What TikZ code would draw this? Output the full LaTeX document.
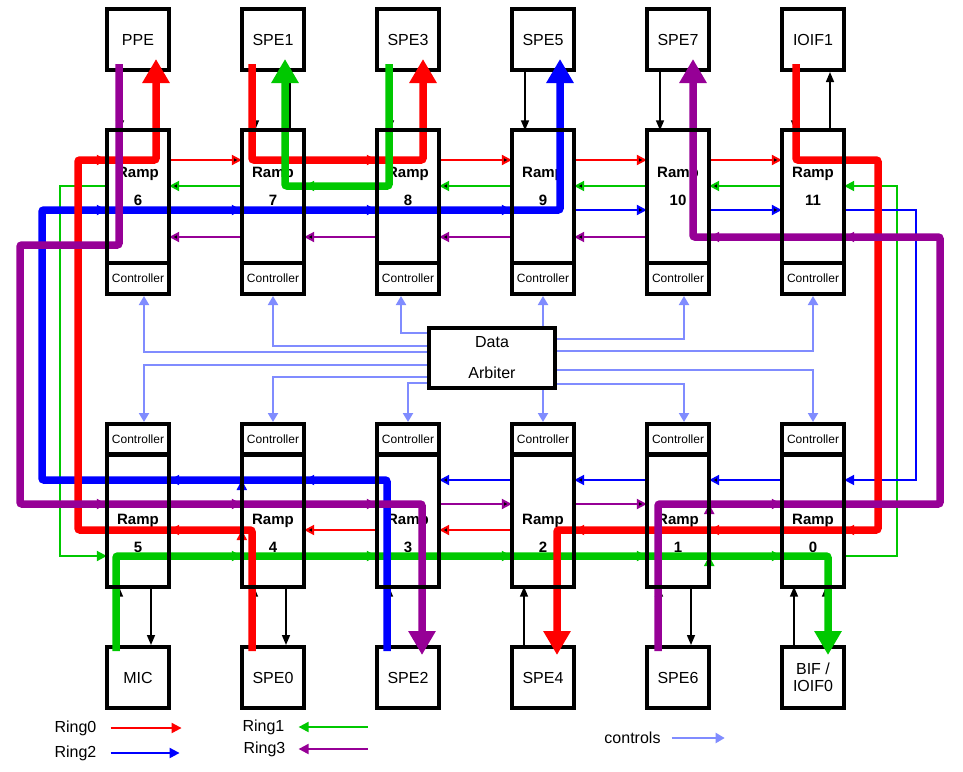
\documentclass[tikz,border=0pt]{standalone}
\usepackage{fontspec}
\setmainfont{Liberation Sans}
\usepackage{tikz}
\usetikzlibrary{arrows.meta,positioning}

\definecolor{ringred}{RGB}{255,0,0}
\definecolor{ringgreen}{RGB}{0,200,0}
\definecolor{ringblue}{RGB}{0,0,255}
\definecolor{ringpurple}{RGB}{150,0,150}
\definecolor{ctlblue}{RGB}{128,140,255}

\tikzset{
  dev/.style={draw, line width=4pt, minimum width=62pt, minimum height=61pt,
    inner sep=0pt, align=center, font=\fontsize{16}{17}\selectfont},
  ramp/.style={minimum width=62pt, minimum height=132pt, inner sep=0pt},
  ctrl/.style={draw, line width=4pt, minimum width=62pt, minimum height=31pt,
    inner sep=0pt, font=\fontsize{12}{14}\selectfont},
  arb/.style={draw, line width=4pt, minimum width=126pt, minimum height=60pt,
    inner sep=0pt, align=center, font=\fontsize{16}{31}\selectfont},
  rlbl/.style={align=center, inner sep=0pt, font=\bfseries\fontsize{15}{28}\selectfont},
  lgd/.style={inner sep=1pt, font=\fontsize{16}{19}\selectfont},
  ringarr/.style={line width=2pt, -{Triangle[width=10pt,length=10pt]}},
  ring0/.style={ringarr, draw=ringred},
  ring1/.style={ringarr, draw=ringgreen},
  ring2/.style={ringarr, draw=ringblue},
  ring3/.style={ringarr, draw=ringpurple},
  bus/.style={draw=black, line width=1.5pt, -{Triangle[width=8pt,length=10pt]}},
  ctl/.style={draw=ctlblue, line width=2pt, -{Triangle[width=10pt,length=9pt]}},
  route/.style={line width=7.5pt, rounded corners=2pt, -{Triangle[width=26pt,length=24pt]}}
}

\begin{document}
\begin{tikzpicture}[x=1pt,y=-1pt,node distance=135pt,on grid]
   \useasboundingbox (0,0) rectangle (963,771);

   % top units
   \node[dev] (ppe) at (138,39.5)    {PPE};
   \node[dev] (spe1)  [right=of ppe]  {SPE1};
   \node[dev] (spe3)  [right=of spe1] {SPE3};
   \node[dev] (spe5)  [right=of spe3] {SPE5};
   \node[dev] (spe7)  [right=of spe5] {SPE7};
   \node[dev] (ioif1) [right=of spe7] {IOIF1};

   \node[ramp] (r6)  [below=157pt of ppe] {};
   \node[ramp] (r7)  [right=of r6]  {};
   \node[ramp] (r8)  [right=of r7]  {};
   \node[ramp] (r9)  [right=of r8]  {};
   \node[ramp] (r10) [right=of r9]  {};
   \node[ramp] (r11) [right=of r10] {};

   \node[ctrl] (c6)  [below=82pt of r6]  {Controller};
   \node[ctrl] (c7)  [below=82pt of r7]  {Controller};
   \node[ctrl] (c8)  [below=82pt of r8]  {Controller};
   \node[ctrl] (c9)  [below=82pt of r9]  {Controller};
   \node[ctrl] (c10) [below=82pt of r10] {Controller};
   \node[ctrl] (c11) [below=82pt of r11] {Controller};

   % bottom units
   \node[ramp] (r5) at (138,520.5) {};
   \node[ramp] (r4) [right=of r5] {};
   \node[ramp] (r3) [right=of r4] {};
   \node[ramp] (r2) [right=of r3] {};
   \node[ramp] (r1) [right=of r2] {};
   \node[ramp] (r0) [right=of r1] {};

   \node[ctrl] (c5) [above=81pt of r5] {Controller};
   \node[ctrl] (c4) [above=81pt of r4] {Controller};
   \node[ctrl] (c3) [above=81pt of r3] {Controller};
   \node[ctrl] (c2) [above=81pt of r2] {Controller};
   \node[ctrl] (c1) [above=81pt of r1] {Controller};
   \node[ctrl] (c0) [above=81pt of r0] {Controller};

   \node[dev] (mic)  [below=157pt of r5] {MIC};
   \node[dev] (spe0) [below=157pt of r4] {SPE0};
   \node[dev] (spe2) [below=157pt of r3] {SPE2};
   \node[dev] (spe4) [below=157pt of r2] {SPE4};
   \node[dev] (spe6) [below=157pt of r1] {SPE6};
   \node[dev] (bif)  [below=157pt of r0] {BIF /\\IOIF0};

   \node[arb] (arb) at (492,358) {Data\\Arbiter};

   \node[rlbl] (t6)  at (r6 |- 0,186)  {Ramp\\6};
   \node[rlbl] (t7)  at (r7 |- 0,186)  {Ramp\\7};
   \node[rlbl] (t8)  at (r8 |- 0,186)  {Ramp\\8};
   \node[rlbl] (t9)  at (r9 |- 0,186)  {Ramp\\9};
   \node[rlbl] (t10) at (r10 |- 0,186) {Ramp\\10};
   \node[rlbl] (t11) at (r11 |- 0,186) {Ramp\\11};
   \node[rlbl] (t5)  at (r5 |- 0,533.5) {Ramp\\5};
   \node[rlbl] (t4)  at (r4 |- 0,533.5) {Ramp\\4};
   \node[rlbl] (t3)  at (r3 |- 0,533.5) {Ramp\\3};
   \node[rlbl] (t2)  at (r2 |- 0,533.5) {Ramp\\2};
   \node[rlbl] (t1)  at (r1 |- 0,533.5) {Ramp\\1};
   \node[rlbl] (t0)  at (r0 |- 0,533.5) {Ramp\\0};

   % ring links between ramps
   \path[ring0]
    (r6.east |- 0,160)  edge (r7.west |- 0,160)
    (r7.east |- 0,160)  edge (r8.west |- 0,160)
    (r8.east |- 0,160)  edge (r9.west |- 0,160)
    (r9.east |- 0,160)  edge (r10.west |- 0,160)
    (r10.east |- 0,160) edge (r11.west |- 0,160)
    (r0.west |- 0,530)  edge (r1.east |- 0,530)
    (r1.west |- 0,530)  edge (r2.east |- 0,530)
    (r2.west |- 0,530)  edge (r3.east |- 0,530)
    (r3.west |- 0,530)  edge (r4.east |- 0,530)
    (r4.west |- 0,530)  edge (r5.east |- 0,530);
   \path[ring1]
    (r7.west |- 0,186)  edge (r6.east |- 0,186)
    (r8.west |- 0,186)  edge (r7.east |- 0,186)
    (r9.west |- 0,186)  edge (r8.east |- 0,186)
    (r10.west |- 0,186) edge (r9.east |- 0,186)
    (r11.west |- 0,186) edge (r10.east |- 0,186)
    (r5.east |- 0,556)  edge (r4.west |- 0,556)
    (r4.east |- 0,556)  edge (r3.west |- 0,556)
    (r3.east |- 0,556)  edge (r2.west |- 0,556)
    (r2.east |- 0,556)  edge (r1.west |- 0,556)
    (r1.east |- 0,556)  edge (r0.west |- 0,556);
   \path[ring2]
    (r6.east |- 0,210)  edge (r7.west |- 0,210)
    (r7.east |- 0,210)  edge (r8.west |- 0,210)
    (r8.east |- 0,210)  edge (r9.west |- 0,210)
    (r9.east |- 0,210)  edge (r10.west |- 0,210)
    (r10.east |- 0,210) edge (r11.west |- 0,210)
    (r0.west |- 0,480)  edge (r1.east |- 0,480)
    (r1.west |- 0,480)  edge (r2.east |- 0,480)
    (r2.west |- 0,480)  edge (r3.east |- 0,480)
    (r3.west |- 0,480)  edge (r4.east |- 0,480)
    (r4.west |- 0,480)  edge (r5.east |- 0,480);
   \path[ring3]
    (r7.west |- 0,237)  edge (r6.east |- 0,237)
    (r8.west |- 0,237)  edge (r7.east |- 0,237)
    (r9.west |- 0,237)  edge (r8.east |- 0,237)
    (r10.west |- 0,237) edge (r9.east |- 0,237)
    (r11.west |- 0,237) edge (r10.east |- 0,237)
    (r5.east |- 0,504)  edge (r4.west |- 0,504)
    (r4.east |- 0,504)  edge (r3.west |- 0,504)
    (r3.east |- 0,504)  edge (r2.west |- 0,504)
    (r2.east |- 0,504)  edge (r1.west |- 0,504)
    (r1.east |- 0,504)  edge (r0.west |- 0,504);

   % ring ends round the sides
   \draw[ring0] (r11.east |- 0,160) -| (878,530) -- (r0.east |- 0,530);
   \draw[ring0] (r5.west |- 0,530)  -| (78,160)  -- (r6.west |- 0,160);
   \draw[ring1] (r6.west |- 0,186)  -| (60,556)  -- (r5.west |- 0,556);
   \draw[ring1] (r0.east |- 0,556)  -| (897,186) -- (r11.east |- 0,186);
   \draw[ring2] (r11.east |- 0,210) -| (916,480) -- (r0.east |- 0,480);
   \draw[ring2] (r5.west |- 0,480)  -| (42,210)  -- (r6.west |- 0,210);
   \draw[ring3] (r6.west |- 0,245)  -| (20,504)  -- (r5.west |- 0,504);
   \draw[ring3] (r0.east |- 0,504)  -| (940,237) -- (r11.east |- 0,237);

   % units to ramps
   \path[bus]
    ([xshift=-18pt]ppe.south)   edge ([xshift=-18pt]r6.north)
    ([xshift=17pt]r6.north)     edge ([xshift=17pt]ppe.south)
    ([xshift=-18pt]spe1.south)  edge ([xshift=-18pt]r7.north)
    ([xshift=17pt]r7.north)     edge ([xshift=17pt]spe1.south)
    ([xshift=-18pt]spe3.south)  edge ([xshift=-18pt]r8.north)
    ([xshift=17pt]r8.north)     edge ([xshift=17pt]spe3.south)
    ([xshift=-18pt]spe5.south)  edge ([xshift=-18pt]r9.north)
    ([xshift=17pt]r9.north)     edge ([xshift=17pt]spe5.south)
    ([xshift=-18pt]spe7.south)  edge ([xshift=-18pt]r10.north)
    ([xshift=17pt]r10.north)    edge ([xshift=17pt]spe7.south)
    ([xshift=-18pt]ioif1.south) edge ([xshift=-18pt]r11.north)
    ([xshift=17pt]r11.north)    edge ([xshift=17pt]ioif1.south)

    ([xshift=-19pt]mic.north)   edge ([xshift=-19pt]r5.south)
    ([xshift=13pt]r5.south)     edge ([xshift=13pt]mic.north)
    ([xshift=-19pt]spe0.north)  edge ([xshift=-19pt]r4.south)
    ([xshift=13pt]r4.south)     edge ([xshift=13pt]spe0.north)
    ([xshift=-19pt]spe2.north)  edge ([xshift=-19pt]r3.south)
    ([xshift=13pt]r3.south)     edge ([xshift=13pt]spe2.north)
    ([xshift=-19pt]spe4.north)  edge ([xshift=-19pt]r2.south)
    ([xshift=13pt]r2.south)     edge ([xshift=13pt]spe4.north)
    ([xshift=-19pt]spe6.north)  edge ([xshift=-19pt]r1.south)
    ([xshift=13pt]r1.south)     edge ([xshift=13pt]spe6.north)
    ([xshift=-19pt]bif.north)   edge ([xshift=-19pt]r0.south)
    ([xshift=13pt]r0.south)     edge ([xshift=13pt]bif.north);

   % arbiter controls
   \draw[ctl] (arb.west |- 0,352) -| ([xshift=6pt]c6.south);
   \draw[ctl] (arb.west |- 0,346) -| (c7.south);
   \draw[ctl] (arb.west |- 0,333) -| ([xshift=-7pt]c8.south);
   \draw[ctl] (arb.north -| c9.south) -- (c9.south);
   \draw[ctl] (arb.east |- 0,339) -| ([xshift=6pt]c10.south);
   \draw[ctl] (arb.east |- 0,351) -| (c11.south);
   \draw[ctl] (arb.west |- 0,365) -| ([xshift=6pt]c5.north);
   \draw[ctl] (arb.west |- 0,377) -| (c4.north);
   \draw[ctl] (arb.west |- 0,383) -| (c3.north);
   \draw[ctl] (arb.south -| c2.north) -- (c2.north);
   \draw[ctl] (arb.east |- 0,384) -| ([xshift=6pt]c1.north);
   \draw[ctl] (arb.east |- 0,370) -| (c0.north);

   % transfers
   \draw[route, ringgreen]  ([xshift=-22pt,yshift=-6pt]mic.north) |- (828,556)
                            -- ([xshift=15pt,yshift=-10pt]bif.north);
   \draw[route, ringblue]   ([xshift=-21pt,yshift=-6pt]spe2.north) |- (42,480) |- (560,210)
                            -- ([xshift=17pt,yshift=13pt]spe5.south);
   \draw[route, ringred]    ([xshift=-21pt,yshift=-6pt]spe0.north) |- (78,530) |- (156,160)
                            -- ([xshift=18pt,yshift=13pt]ppe.south);
   \draw[route, ringred]    ([xshift=-21pt,yshift=8pt]spe1.south) |- (423,160)
                            -- ([xshift=15pt,yshift=13pt]spe3.south);
   \draw[route, ringred]    ([xshift=-17pt,yshift=8pt]ioif1.south) |- (878,160) |- (557,530)
                            -- ([xshift=14pt,yshift=-10pt]spe4.north);
   \draw[route, ringpurple] ([xshift=-19pt,yshift=8pt]ppe.south) |- (20,245) |- (422,504)
                            -- ([xshift=14pt,yshift=-10pt]spe2.north);
   \draw[route, ringpurple] ([xshift=-20pt,yshift=-6pt]spe6.north) |- (940,504) |- (693,237)
                            -- ([xshift=15pt,yshift=13pt]spe7.south);
   \draw[route, ringgreen]  ([xshift=-19pt,yshift=8pt]spe3.south) |- (285,186)
                            -- ([xshift=12pt,yshift=13pt]spe1.south);

   % ramp frames over the transfers
   \foreach \i in {0,...,11}
     \draw[line width=4pt] (r\i.north west) rectangle (r\i.south east);

   % legend
   \node[lgd] (lr0) at (75.5,728)  {Ring0};
   \node[lgd] (lr2) at (75.5,753)  {Ring2};
   \node[lgd] (lr1) at (263.5,727) {Ring1};
   \node[lgd] (lr3) at (264.5,749) {Ring3};
   \node[lgd] (lc)  at (632.5,738) {controls};
   \draw[ring0] ([xshift=13pt]lr0.east) -- ++(71,0);
   \draw[ring2] ([xshift=13pt]lr2.east) -- ++(69,0);
   \draw[ring1] ([xshift=82pt]lr1.east) -- ++(-69,0);
   \draw[ring3] ([xshift=81pt]lr3.east) -- ++(-69,0);
   \draw[ctl]   ([xshift=10pt]lc.east)  -- ++(53,0);
\end{tikzpicture}
\end{document}
